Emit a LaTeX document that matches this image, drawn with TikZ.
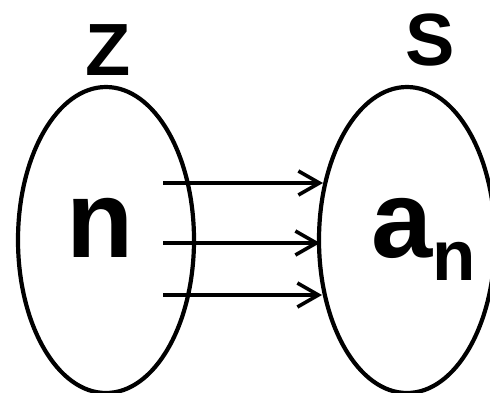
\documentclass[tikz,border=0pt]{standalone}
\usepackage{fontspec}
\setmainfont{Liberation Sans}
\usepackage{tikz}
\usetikzlibrary{shapes.geometric, arrows.meta, positioning, calc}
\tikzset{
  setoval/.style={ellipse, draw=black, line width=4.2pt, minimum width=176pt, minimum height=306pt, inner sep=0pt},
  setname/.style={inner sep=0pt, anchor=base, font=\fontsize{74}{74}\selectfont\bfseries},
  element/.style={inner sep=0pt, anchor=base, font=\fontsize{110}{110}\selectfont\bfseries},
  maparrow/.style={-{Straight Barb[length=21pt, width=24pt, line width=3.6pt]}, line width=3.6pt},
}
\begin{document}
\begin{tikzpicture}[x=1pt, y=-1pt]
\useasboundingbox (0,0) rectangle (490,392);
% the two sets
\node (zset) [setoval] at (106,240) {};
\node (sset) [setoval] at (407,240) {};
\node (zname) [setname] at (108,75) {Z};
\node (sname) [setname] at (430,65) {S};
% elements
\node (nelem) [element] at (100,257) {n};
\node (aelem) [element, anchor=base west] at (371,257) {a\raisebox{-23pt}{\fontsize{71}{71}\selectfont n}};
% mapping arrows
\coordinate (s1) at (163,183);
\coordinate (s2) at (163,243);
\coordinate (s3) at (163,295);
\coordinate (t1) at (323,183);
\coordinate (t2) at (320,243);
\coordinate (t3) at (322,295);
\draw[maparrow] (s1) -- (t1);
\draw[maparrow] (s2) -- (t2);
\draw[maparrow] (s3) -- (t3);
\end{tikzpicture}
\end{document}
